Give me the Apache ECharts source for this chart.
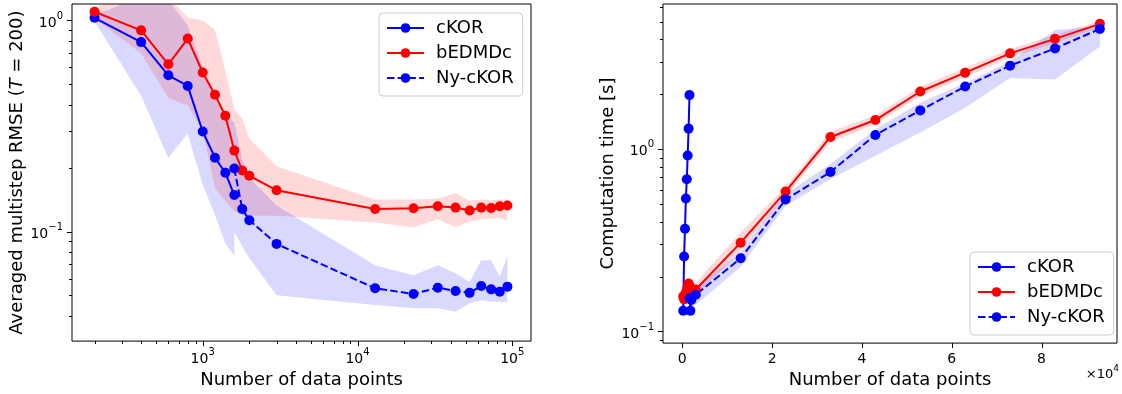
<!DOCTYPE html>
<html><head><meta charset="utf-8">
<script src="https://cdn.jsdelivr.net/npm/echarts@6/dist/echarts.min.js"></script>
<style>html,body{margin:0;padding:0;background:#fff}#c{width:1122px;height:394px}</style>
</head><body><div id="c"></div>
<script>
// ---------------- data: left panel (RMSE) ----------------
const seriesNames = ['cKOR', 'bEDMDc', 'Ny-cKOR'];

const rmseCkorX  = [200, 400, 600, 800, 1000, 1200, 1400, 1600];
const rmseCkorY  = [1.03, 0.79, 0.55, 0.49, 0.298, 0.224, 0.19, 0.149];
const rmseCkorLo = [0.99, 0.44, 0.223, 0.292, 0.167, 0.12, 0.088, 0.077];
const rmseCkorHi = [1.06, 1.3, 1.25, 0.95, 0.6, 0.42, 0.36, 0.33];

const rmseBedX  = [200, 400, 600, 800, 1000, 1200, 1400, 1600, 1800, 2000, 3000, 13000, 23000, 33000, 43000, 53000, 63000, 73000, 83000, 93000];
const rmseBedY  = [1.10, 0.898, 0.620, 0.821, 0.567, 0.445, 0.354, 0.242, 0.195, 0.184, 0.157, 0.128, 0.129, 0.132, 0.130, 0.126, 0.130, 0.1295, 0.132, 0.133];
const rmseBedLo = [1.02, 0.70, 0.43, 0.396, 0.30, 0.161, 0.14, 0.125, 0.12, 0.119, 0.119, 0.1105, 0.105, 0.1146, 0.105, 0.1117, 0.1146, 0.1155, 0.116, 0.1126];
const rmseBedHi = [1.16, 1.35, 1.3, 1.03, 1.0, 0.905, 0.58, 0.382, 0.343, 0.276, 0.204, 0.142, 0.142, 0.1436, 0.152, 0.140, 0.142, 0.141, 0.142, 0.142];

const rmseNyX  = [1600, 1800, 2000, 3000, 13000, 23000, 33000, 43000, 53000, 63000, 73000, 83000, 93000];
const rmseNyY  = [0.199, 0.128, 0.1133, 0.0875, 0.0539, 0.0507, 0.0543, 0.0524, 0.0513, 0.0553, 0.0533, 0.052, 0.0549];
const rmseNyLo = [0.10, 0.085, 0.075, 0.05, 0.0449, 0.0434, 0.0434, 0.0417, 0.0458, 0.0474, 0.0466, 0.0466, 0.0466];
const rmseNyHi = [0.33, 0.22, 0.18, 0.133, 0.0694, 0.0622, 0.0694, 0.0635, 0.0578, 0.0732, 0.0732, 0.0612, 0.0772];

// ---------------- data: right panel (time) ----------------
const timeCkorX  = [200, 400, 600, 800, 1000, 1200, 1400, 1600];
const timeCkorY  = [0.130, 0.258, 0.366, 0.536, 0.684, 0.924, 1.297, 1.98];
const timeCkorLo = [0.12, 0.245, 0.35, 0.515, 0.66, 0.895, 1.26, 1.92];
const timeCkorHi = [0.14, 0.27, 0.38, 0.555, 0.71, 0.955, 1.33, 2.04];

const timeBedX  = [200, 400, 600, 800, 1000, 1200, 1400, 1600, 1800, 2000, 3000, 13000, 23000, 33000, 43000, 53000, 63000, 73000, 83000, 93000];
const timeBedY  = [0.156, 0.150, 0.158, 0.163, 0.168, 0.175, 0.183, 0.178, 0.172, 0.168, 0.170, 0.307, 0.585, 1.167, 1.445, 2.072, 2.63, 3.355, 4.03, 4.87];
const timeBedLo = [0.14, 0.135, 0.145, 0.15, 0.155, 0.16, 0.168, 0.162, 0.158, 0.155, 0.158, 0.275, 0.55, 1.09, 1.37, 1.95, 2.48, 3.17, 3.8, 4.65];
const timeBedHi = [0.172, 0.165, 0.172, 0.178, 0.183, 0.19, 0.2, 0.195, 0.188, 0.183, 0.185, 0.35, 0.625, 1.25, 1.53, 2.2, 2.8, 3.55, 4.25, 5.05];

const timeNyX  = [1600, 1800, 2000, 3000, 13000, 23000, 33000, 43000, 53000, 63000, 73000, 83000, 93000];
const timeNyY  = [0.152, 0.130, 0.149, 0.159, 0.252, 0.529, 0.749, 1.197, 1.632, 2.207, 2.873, 3.571, 4.57];
const timeNyLo = [0.14, 0.12, 0.135, 0.14, 0.226, 0.49, 0.686, 0.92, 1.233, 1.69, 2.46, 2.41, 3.66];
const timeNyHi = [0.165, 0.14, 0.16, 0.175, 0.272, 0.568, 0.828, 1.286, 1.8, 2.31, 3.03, 4.51, 4.71];

// ---------------- ticks ----------------
const leftXMajor  = [1000, 10000, 100000];
const leftXMinor  = [200, 300, 400, 500, 600, 700, 800, 900, 2000, 3000, 4000, 5000, 6000, 7000, 8000, 9000, 20000, 30000, 40000, 50000, 60000, 70000, 80000, 90000];
const leftYMajor  = [0.1, 1];
const leftYMinor  = [0.04, 0.05, 0.06, 0.07, 0.08, 0.09, 0.2, 0.3, 0.4, 0.5, 0.6, 0.7, 0.8, 0.9];
const rightXMajor = [0, 20000, 40000, 60000, 80000];
const rightYMajor = [0.1, 1];
const rightYMinor = [0.09, 0.2, 0.3, 0.4, 0.5, 0.6, 0.7, 0.8, 0.9, 2, 3, 4, 5, 6];

// ---------------- chart ----------------
const FONT = 'DejaVu Sans';
const BLUE = '#0000ff', RED = '#ff0000';
const BLUE_FILL = 'rgba(0,0,255,0.15)', RED_FILL = 'rgba(255,0,0,0.15)';
const L = {xmin: 143.1, xmax: 132070, ymin: 0.03032, ymax: 1.197};
const R = {xmin: -4298, xmax: 96815, ymin: 0.08632, ymax: 6.259};

function zip(a, b) { return a.map((v, i) => [v, b[i]]); }

function sup(e) { return e < 0 ? '\u2212' + (-e) : String(e); }
function logLabel(v) {
  const l = Math.log10(v), e = Math.round(l);
  if (Math.abs(l - e) > 1e-6) return '';
  return '{b|10}{s|' + sup(e) + '}';
}
const richPow = {
  b: {fontSize: 14, fontFamily: FONT, color: '#000', verticalAlign: 'bottom', padding: [5, 0, 0, 0]},
  s: {fontSize: 10, fontFamily: FONT, color: '#000', verticalAlign: 'top'}
};

function bandSeries(gi, xs, lo, hi, color, name) {
  return {
    type: 'custom', name: name, xAxisIndex: gi, yAxisIndex: gi, silent: true, z: 1,
    data: xs.map((x, i) => [x, lo[i], hi[i]]),
    encode: {x: 0, y: [1, 2]},
    renderItem(params, api) {
      if (params.dataIndex !== 0) return null;
      const pts = [];
      for (let i = 0; i < xs.length; i++) pts.push(api.coord([xs[i], hi[i]]));
      for (let i = xs.length - 1; i >= 0; i--) pts.push(api.coord([xs[i], lo[i]]));
      const cs = params.coordSys;
      return {type: 'polygon', shape: {points: pts}, style: {fill: color},
        clipPath: {type: 'rect', shape: {x: cs.x, y: cs.y, width: cs.width, height: cs.height}}};
    }
  };
}

function lineSeries(gi, name, xs, ys, color, dashed) {
  return {
    type: 'line', name: name, xAxisIndex: gi, yAxisIndex: gi, z: 3,
    data: zip(xs, ys), symbol: 'circle', symbolSize: 10, showSymbol: true,
    lineStyle: {color: color, width: 2, type: dashed ? [7.5, 3.2] : 'solid'},
    itemStyle: {color: color}, emphasis: {disabled: true}
  };
}

function tickSeries(gi, dim, values, other, len) {
  return {
    type: 'custom', xAxisIndex: gi, yAxisIndex: gi, silent: true, z: 6,
    data: values.map(v => dim === 'x' ? [v, other] : [other, v]),
    renderItem(params, api) {
      const p = api.coord([api.value(0), api.value(1)]);
      if (dim === 'x') {
        const x = Math.round(p[0]) + 0.5;
        return {type: 'line', shape: {x1: x, y1: p[1], x2: x, y2: p[1] + len}, style: {stroke: '#000', lineWidth: 1}};
      }
      const y = Math.round(p[1]) + 0.5;
      return {type: 'line', shape: {x1: p[0] - len, y1: y, x2: p[0], y2: y}, style: {stroke: '#000', lineWidth: 1}};
    }
  };
}

function legendCfg(left, top) {
  return {
    left: left, top: top, orient: 'vertical', data: seriesNames,
    padding: [5, 9, 8, 7], itemGap: 5, itemWidth: 37, itemHeight: 12,
    textStyle: {fontFamily: FONT, fontSize: 18, color: '#000', lineHeight: 20, padding: [0, 0, 0, 7]},
    borderColor: '#cccccc', borderWidth: 1, borderRadius: 4, backgroundColor: 'rgba(255,255,255,0.8)',
    selectedMode: false
  };
}

const axisCommon = {
  axisLine: {show: false}, axisTick: {show: false}, splitLine: {show: false},
};

const option = {
  animation: false,
  backgroundColor: '#fff',
  grid: [
    {left: 72, top: 4, width: 459, height: 341, show: true, borderColor: '#000', borderWidth: 1, backgroundColor: 'transparent'},
    {left: 663, top: 4, width: 454, height: 341, show: true, borderColor: '#000', borderWidth: 1, backgroundColor: 'transparent'}
  ],
  xAxis: [
    Object.assign({type: 'log', logBase: 10, gridIndex: 0, min: L.xmin, max: L.xmax,
      name: 'Number of data points', nameLocation: 'middle', nameGap: 27,
      nameTextStyle: {fontFamily: FONT, fontSize: 18, color: '#000'},
      axisLabel: {formatter: logLabel, rich: richPow, margin: 6, showMinLabel: false, showMaxLabel: false}}, axisCommon),
    Object.assign({type: 'value', gridIndex: 1, min: R.xmin, max: R.xmax,
      name: 'Number of data points', nameLocation: 'middle', nameGap: 27,
      nameTextStyle: {fontFamily: FONT, fontSize: 18, color: '#000'},
      axisLabel: {formatter: v => String(Math.round(v / 10000)), fontFamily: FONT, fontSize: 14, color: '#000', margin: 9,
        showMinLabel: false, showMaxLabel: false}}, axisCommon)
  ],
  yAxis: [
    Object.assign({type: 'log', logBase: 10, gridIndex: 0, min: L.ymin, max: L.ymax,
      name: '{n|Averaged multistep RMSE (}{i|T}{n| = 200)}', nameLocation: 'middle', nameGap: 46,
      nameTextStyle: {rich: {n: {fontFamily: FONT, fontSize: 18, color: '#000'}, i: {fontFamily: FONT, fontStyle: 'italic', fontSize: 18, color: '#000'}}},
      axisLabel: {formatter: logLabel, rich: richPow, margin: 9, showMinLabel: false, showMaxLabel: false}}, axisCommon),
    Object.assign({type: 'log', logBase: 10, gridIndex: 1, min: R.ymin, max: R.ymax,
      name: 'Computation time [s]', nameLocation: 'middle', nameGap: 41,
      nameTextStyle: {fontFamily: FONT, fontSize: 18, color: '#000'},
      axisLabel: {formatter: logLabel, rich: richPow, margin: 9, showMinLabel: false, showMaxLabel: false}}, axisCommon)
  ],
  legend: [legendCfg(379, 13), legendCfg(970, 252)],
  graphic: [{
    type: 'text', right: 3, top: 364,
    style: {text: '{a|\u00d710}{s|4}', rich: {a: {fontSize: 13, fontFamily: FONT, fill: '#000', verticalAlign: 'bottom', padding: [4, 0, 0, 0]}, s: {fontSize: 9, fontFamily: FONT, fill: '#000', verticalAlign: 'top'}}}
  }],
  series: [
    bandSeries(0, rmseCkorX, rmseCkorLo, rmseCkorHi, BLUE_FILL, 'b1'),
    bandSeries(0, rmseBedX, rmseBedLo, rmseBedHi, RED_FILL, 'b2'),
    bandSeries(0, rmseNyX, rmseNyLo, rmseNyHi, BLUE_FILL, 'b3'),
    lineSeries(0, 'cKOR', rmseCkorX, rmseCkorY, BLUE, false),
    lineSeries(0, 'bEDMDc', rmseBedX, rmseBedY, RED, false),
    lineSeries(0, 'Ny-cKOR', rmseNyX, rmseNyY, BLUE, true),

    bandSeries(1, timeCkorX, timeCkorLo, timeCkorHi, BLUE_FILL, 'b4'),
    bandSeries(1, timeBedX, timeBedLo, timeBedHi, RED_FILL, 'b5'),
    bandSeries(1, timeNyX, timeNyLo, timeNyHi, BLUE_FILL, 'b6'),
    lineSeries(1, 'cKOR', timeCkorX, timeCkorY, BLUE, false),
    lineSeries(1, 'bEDMDc', timeBedX, timeBedY, RED, false),
    lineSeries(1, 'Ny-cKOR', timeNyX, timeNyY, BLUE, true),

    tickSeries(0, 'x', leftXMajor, L.ymin, 5),
    tickSeries(0, 'x', leftXMinor, L.ymin, 3),
    tickSeries(0, 'y', leftYMajor, L.xmin, 5),
    tickSeries(0, 'y', leftYMinor, L.xmin, 3),
    tickSeries(1, 'x', rightXMajor, R.ymin, 5),
    tickSeries(1, 'y', rightYMajor, R.xmin, 5),
    tickSeries(1, 'y', rightYMinor, R.xmin, 3)
  ]
};

const chart = echarts.init(document.getElementById('c'), null, {renderer: 'canvas'});
chart.setOption(option);
</script>
</body></html>
